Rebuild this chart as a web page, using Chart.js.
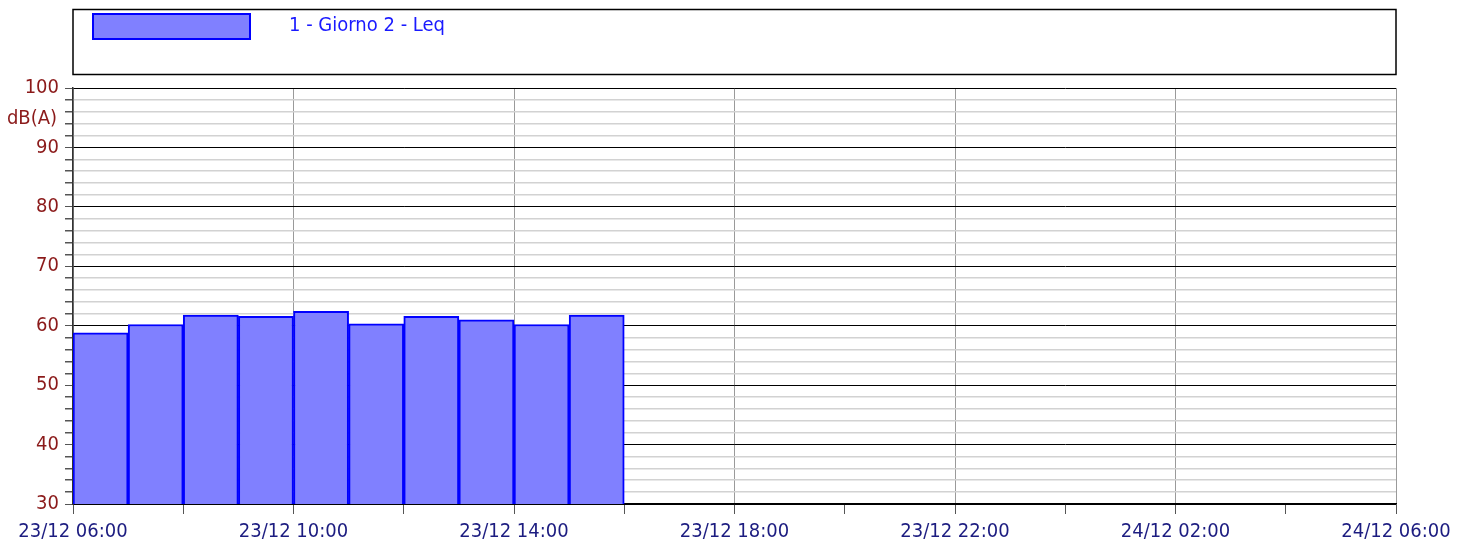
<!DOCTYPE html>
<html>
<head>
<meta charset="utf-8">
<script src="https://cdn.jsdelivr.net/npm/chart.js@4"></script>
<style>
  html, body { margin: 0; padding: 0; background: #fff; }
  #wrap { width: 1462px; height: 542px; }
</style>
</head>
<body>
<div id="wrap"><canvas id="levelChart" width="1462" height="542"></canvas></div>
<script>
// Leq per hour, 23/12 from 06:00
const hourStarts = [0, 1, 2, 3, 4, 5, 6, 7, 8, 9];   // hours after 23/12 06:00
const leqValues = [58.8, 60.2, 61.8, 61.6, 62.4, 60.3, 61.6, 61.0, 60.2, 61.8];
const seriesName = '1 - Giorno 2 - Leq';
const xTickLabels = ['23/12 06:00', '23/12 10:00', '23/12 14:00', '23/12 18:00', '23/12 22:00', '24/12 02:00', '24/12 06:00'];
const yUnit = 'dB(A)';

const FONT = '"Liberation Sans Narrow", "DejaVu Sans Condensed", "Liberation Sans", sans-serif';

// legend frame + unit label drawn by hand
const extras = {
    id: 'extras',
    afterDraw(chart) {
        const ctx = chart.ctx;
        const area = chart.chartArea;
        const ds = chart.data.datasets[0];
        ctx.save();
        // legend frame
        ctx.strokeStyle = '#000';
        ctx.lineWidth = 1.5;
        ctx.strokeRect(area.left, 9.5, area.right - area.left, 65);
        // legend swatch
        ctx.fillStyle = ds.backgroundColor;
        ctx.fillRect(93, 14, 157, 25);
        ctx.strokeStyle = ds.borderColor;
        ctx.lineWidth = 2;
        ctx.strokeRect(93, 14, 157, 25);
        // legend text
        ctx.fillStyle = '#1a1aff';
        ctx.font = '20px ' + FONT;
        ctx.textBaseline = 'middle';
        ctx.textAlign = 'left';
        ctx.fillText(ds.label, 289, 26);
        // unit
        const y = chart.scales.y;
        ctx.fillStyle = '#8b1a1a';
        ctx.textAlign = 'right';
        ctx.fillText(yUnit, 57, y.getPixelForValue(94.8));
        ctx.restore();
    }
};

new Chart(document.getElementById('levelChart'), {
    type: 'bar',
    data: {
        datasets: [{
            label: seriesName,
            data: hourStarts.map((h, i) => ({ x: h + 0.5, y: leqValues[i] })),
            backgroundColor: '#8080ff',
            borderColor: '#0000ff',
            borderWidth: 2,
            borderSkipped: false,
            barPercentage: 1,
            categoryPercentage: 1
        }]
    },
    options: {
        responsive: false,
        animation: false,
        layout: { padding: { top: 88, right: 66, left: 0, bottom: 0 } },
        plugins: { legend: { display: false }, tooltip: { enabled: false } },
        scales: {
            x: {
                type: 'linear',
                min: 0,
                max: 24,
                offset: false,
                border: { color: '#000', width: 1.5 },
                grid: {
                    offset: false,
                    color: c => (c.tick && c.tick.value % 4 === 0) ? '#9a9a9a' : 'rgba(0,0,0,0)',
                    tickColor: '#555',
                    tickLength: 10,
                    drawOnChartArea: true
                },
                ticks: {
                    stepSize: 2,
                    autoSkip: false,
                    maxRotation: 0,
                    color: '#1c1c80',
                    font: { family: FONT, size: 20 },
                    padding: 6,
                    callback: v => v % 4 === 0 ? xTickLabels[v / 4] : ''
                },
                afterFit: s => { s.height = 38; }
            },
            y: {
                min: 30,
                max: 100,
                border: { color: '#333', width: 1.5 },
                grid: {
                    color: c => (c.tick && c.tick.value % 10 === 0) ? '#000' : '#d2d2d2',
                    lineWidth: c => (c.tick && c.tick.value % 10 === 0) ? 1 : 1.5,
                    tickColor: '#555',
                    tickLength: 8
                },
                ticks: {
                    stepSize: 2,
                    autoSkip: false,
                    color: '#8b1a1a',
                    font: { family: FONT, size: 20 },
                    padding: 6,
                    callback: v => v % 10 === 0 ? v : ''
                },
                afterFit: s => { s.width = 73; }
            }
        }
    },
    plugins: [extras]
});
</script>
</body>
</html>
